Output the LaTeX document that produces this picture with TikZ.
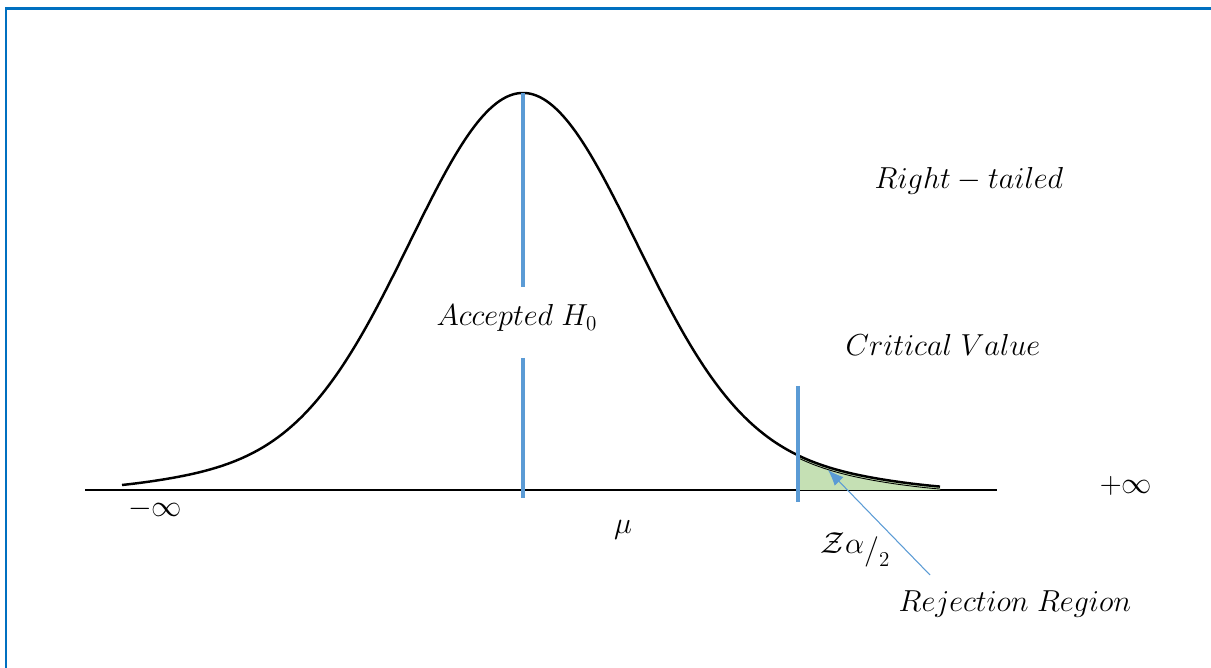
\documentclass[tikz,border=0pt]{standalone}
\usetikzlibrary{arrows.meta}
\definecolor{framecol}{HTML}{0070C0}
\definecolor{markcol}{HTML}{5B9BD5}
\definecolor{tailcol}{HTML}{C5E0B4}
\begin{document}
\begin{tikzpicture}[
        x=0.02cm, y=-0.02cm,
        >={Latex[length=9pt,width=7pt]},
        declare function={bell(\t)=490-397*(0.92*exp(-((\t-523)/100)^2/2.5088)
            +0.08*exp(-((\t-523)/100)^2/12.5)*exp(-((\t-523)/420)^8));},
        curve/.style={line width=1.4pt, black},
        axis/.style={line width=1.1pt, black},
        marker/.style={line width=2.8pt, markcol},
        lbl/.style={inner sep=1pt, font=\fontsize{17.5}{20}\selectfont},
        pointer/.style={line width=0.6pt, markcol}
    ]
    \useasboundingbox (0,0) rectangle (1211,668);

    % 1. Marco azul
    \draw[framecol, line width=1.7pt] (6,668) -- (6,9) -- (1211,9);

    % 2. Eje horizontal
    \coordinate (axl) at (85,490);
    \coordinate (axr) at (997,490);
    \draw[axis] (axl) -- (axr);

    % 3. Region de rechazo
    \fill[tailcol] (798,490) -- plot[domain=798:940, samples=40] (\x,{bell(\x)}) -- (940,490) -- cycle;
    \draw[line width=0.5pt] plot[domain=798:940, samples=40] (\x,{bell(\x)+2.5});

    % 4. Curva
    \draw[curve] plot[domain=122:940, samples=160, smooth] (\x,{bell(\x)});

    % 5. Lineas azules
    \coordinate (mtop) at (523,93);
    \coordinate (mgap1) at (523,287);
    \coordinate (mgap2) at (523,358);
    \coordinate (mbot) at (523,498);
    \draw[marker] (mtop) -- (mgap1);
    \draw[marker] (mgap2) -- (mbot);
    \coordinate (ctop) at (798,386);
    \coordinate (cbot) at (798,502);
    \draw[marker] (ctop) -- (cbot);

    % 6. Textos
    \node[lbl] (accept) at (517,318) {$Accepted\;H_0$};
    \node[lbl] (mu) at (623,530) {$\mu$};
    \node[lbl] (tailed) at (969,181) {$Right - tailed$};
    \node[lbl] (critical) at (943,345) {$Critical\;Value$};
    \node[lbl] (zval) at (855,550) {$\mathcal{Z}\alpha\lower0.5ex\hbox{$/$}\lower1ex\hbox{$\scriptstyle 2$}$};
    \node[lbl] (reject) at (1015,604) {$Rejection\;Region$};
    \node[lbl] (minf) at (155,509) {$-\infty$};
    \node[lbl] (pinf) at (1126,486) {$+\infty$};

    % 7. Flecha hacia la region
    \coordinate (ptail) at (930,575);
    \coordinate (phead) at (828,470);
    \draw[pointer, ->] (ptail) -- (phead);

\end{tikzpicture}
\end{document}
